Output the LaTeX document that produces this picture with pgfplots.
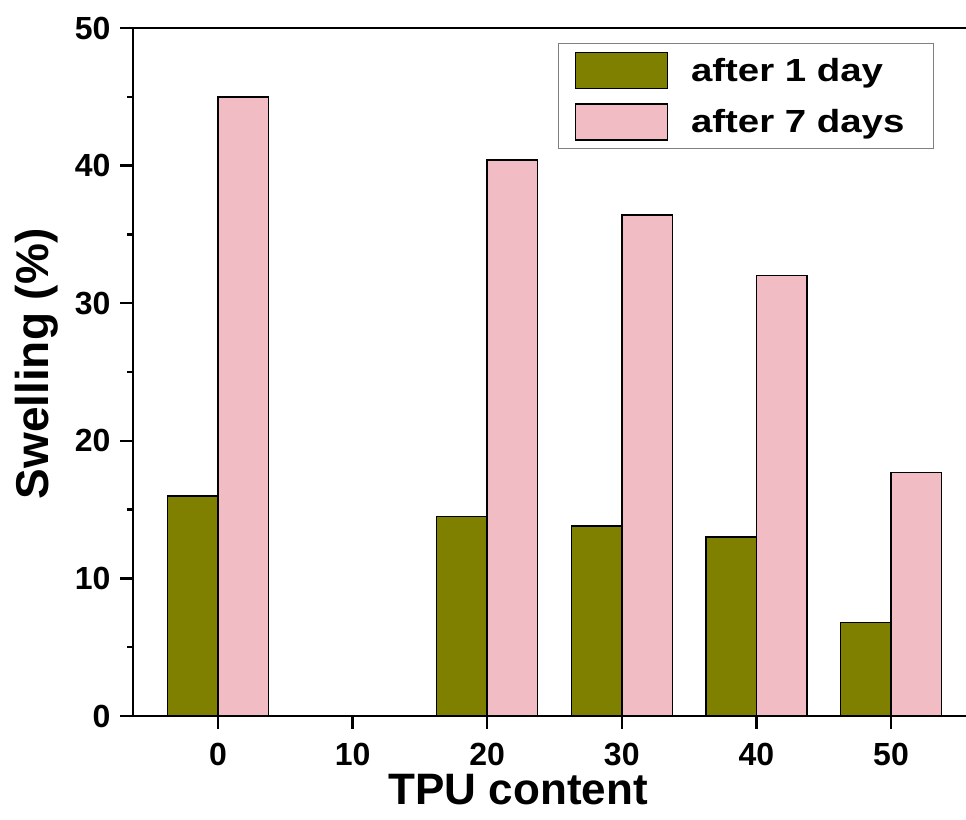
\documentclass[border=0pt]{standalone}
\usepackage{fontspec}
\setmainfont{Liberation Sans}
\newfontfamily\legfont[FakeStretch=1.2]{Liberation Sans}
\usepackage{pgfplots}
\pgfplotsset{compat=1.18}
\usetikzlibrary{calc}
\definecolor{olivebar}{RGB}{128,128,0}
\definecolor{pinkbar}{RGB}{241,188,195}
\begin{document}
\begin{tikzpicture}
\begin{axis}[
  scale only axis, width=833pt, height=688pt,
  xmin=-6.31, xmax=55.57, ymin=0, ymax=50,
  axis x line*=bottom, axis y line*=left,
  axis line style={line width=2.5pt, black},
  xtick={0,10,20,30,40,50}, ytick={0,10,20,30,40,50},
  minor y tick num=1,
  tick align=outside,
  major tick length=13pt, minor tick length=6pt,
  tick style={line width=2.5pt, black},
  /pgf/number format/assume math mode=true,
  tick label style={font=\fontsize{32}{32}\selectfont\bfseries},
  xticklabel style={inner ysep=0pt, yshift=-14pt},
  yticklabel style={xshift=-6pt},
  xlabel={TPU content},
  xlabel style={at={(axis cs:22.3,0)}, anchor=north, yshift=-58pt, inner sep=0pt, font=\fontsize{44}{44}\selectfont\bfseries},
  ylabel={Swelling (\%)},
  ylabel style={at={(axis description cs:0,0.5116)}, anchor=north, yshift=118pt, inner sep=0pt, font=\fontsize{46}{46}\selectfont\bfseries},
  legend image code/.code={\draw[#1, line width=1.5pt] (0pt,-18pt) rectangle (92pt,18pt);},
  legend cell align=left,
  legend style={at={(axis description cs:0.9616,0.978)}, anchor=north east,
    draw=gray, line width=1pt, inner xsep=16pt, inner ysep=8pt,
    row sep=14pt, font=\fontsize{32}{32}\legfont\bfseries,
    nodes={inner ysep=0pt}},
  clip=false,
]
\addplot[ybar, bar width=3.75, bar shift=-1.875, fill=olivebar, draw=black, line width=1.5pt]
  coordinates {(0,16.0) (20,14.5) (30,13.8) (40,13.0) (50,6.8)};
\addlegendentry{\hspace{21pt}after 1 day\hspace{11pt}\null}
\addplot[ybar, bar width=3.75, bar shift=1.875, fill=pinkbar, draw=black, line width=1.5pt]
  coordinates {(0,45.0) (20,40.4) (30,36.4) (40,32.0) (50,17.7)};
\addlegendentry{\hspace{21pt}after 7 days\hspace{11pt}\null}
\draw[line width=2.5pt, black] (rel axis cs:0,1) -- (rel axis cs:1,1);
\coordinate (bl) at (rel axis cs:0,0);
\coordinate (tr) at (rel axis cs:1,1);
\end{axis}
\pgfresetboundingbox
\path ($(bl)+(-133pt,-104pt)$) rectangle ($(tr)+(0pt,28pt)$);
\end{tikzpicture}
\end{document}
